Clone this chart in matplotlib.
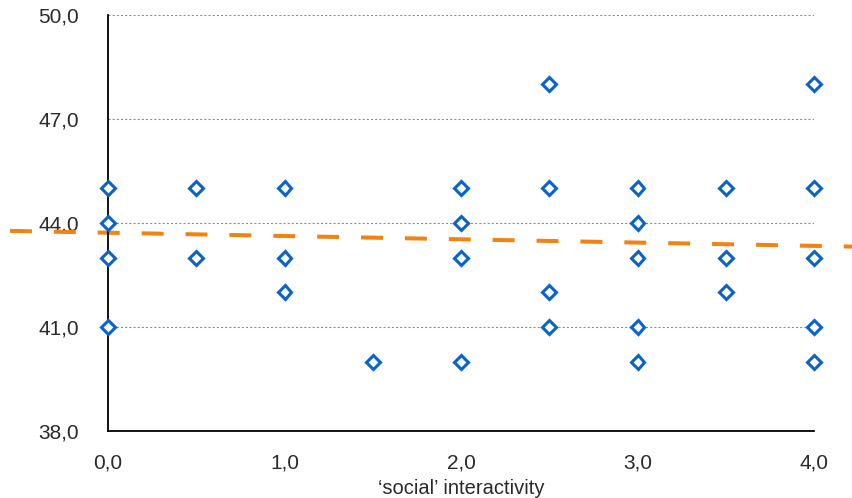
import matplotlib
matplotlib.use("Agg")
import matplotlib.pyplot as plt
import matplotlib.patheffects as pe
from matplotlib.ticker import FuncFormatter

plt.rcParams["font.family"] = ["Liberation Sans", "DejaVu Sans"]
plt.rcParams["lines.scale_dashes"] = False

# interactivity level (x) and measured score (y)
interactivity = [0.0, 0.0, 0.0, 0.0,
                 0.5, 0.5,
                 1.0, 1.0, 1.0,
                 1.5,
                 2.0, 2.0, 2.0, 2.0,
                 2.5, 2.5, 2.5, 2.5,
                 3.0, 3.0, 3.0, 3.0, 3.0,
                 3.5, 3.5, 3.5,
                 4.0, 4.0, 4.0, 4.0, 4.0]
score = [45, 44, 43, 41,
         45, 43,
         45, 43, 42,
         40,
         45, 44, 43, 40,
         48, 45, 42, 41,
         45, 44, 43, 41, 40,
         45, 43, 42,
         48, 45, 43, 41, 40]

# linear trend line
trend_intercept = 43.72
trend_slope = -0.095

x_ticks = [0.0, 1.0, 2.0, 3.0, 4.0]
y_ticks = [38.0, 41.0, 44.0, 47.0, 50.0]

blue = "#0a63cc"
orange = "#f28212"

fig = plt.figure(figsize=(8.53, 4.98), dpi=100)
ax = fig.add_axes([108 / 853, 1 - 431 / 498, 706 / 853, 416 / 498])

ax.set_xlim(0, 4)
ax.set_ylim(38, 50)

ax.grid(axis="y", linestyle=(0, (1.5, 1.5)), color="#8c8c8c", linewidth=0.8)
ax.set_axisbelow(True)

# extend the trend across the whole figure width
x_left = ax.transData.inverted().transform((0, 0))[0]
x_right = ax.transData.inverted().transform((fig.bbox.width, 0))[0]
tx = [x_left, x_right]
ty = [trend_intercept + trend_slope * v for v in tx]
ax.plot(tx, ty, color=orange, linewidth=2.9, linestyle=(24.4, (15.8, 15.8)),
        dash_capstyle="butt", clip_on=False, zorder=2)

ax.plot(interactivity, score, linestyle="none", marker="D", markersize=7.0,
        markerfacecolor="white", markeredgecolor=blue, markeredgewidth=2.2,
        clip_on=False, zorder=3,
        path_effects=[pe.SimplePatchShadow(offset=(0.8, -1.0), alpha=0.25),
                      pe.Normal()])

for side in ("top", "right"):
    ax.spines[side].set_visible(False)
ax.spines["left"].set_linewidth(1.3)
ax.spines["bottom"].set_linewidth(1.3)

fmt = FuncFormatter(lambda v, p: f"{v:.1f}".replace(".", ","))
ax.set_xticks(x_ticks)
ax.set_yticks(y_ticks)
ax.xaxis.set_major_formatter(fmt)
ax.yaxis.set_major_formatter(fmt)
ax.tick_params(axis="both", length=0, labelsize=15, colors="#2a2a2a")
ax.tick_params(axis="y", pad=21)
ax.tick_params(axis="x", pad=16)

ax.set_xlabel("\u2018social\u2019 interactivity", fontsize=14.5, color="#2a2a2a",
              labelpad=5)

fig.savefig("out.png", dpi=100)
